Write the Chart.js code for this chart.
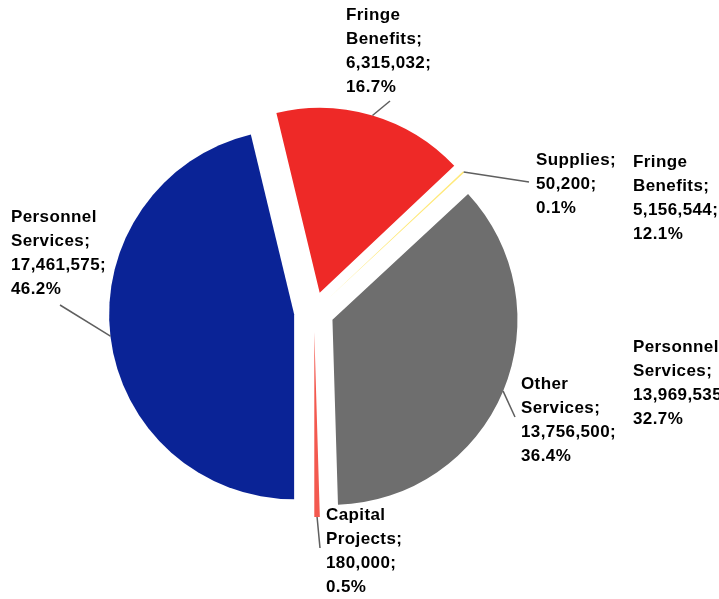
<!DOCTYPE html>
<html>
<head>
<meta charset="utf-8">
<title>Budget by category</title>
<script src="https://cdn.jsdelivr.net/npm/chart.js@4.4.1/dist/chart.umd.min.js"></script>
<style>
  html, body { margin: 0; padding: 0; background: #fff; }
  canvas { display: block; }
</style>
</head>
<body>
<canvas id="budgetPie" width="719" height="599"></canvas>
<script>
// Current year budget, by category (drawn clockwise from 6 o'clock)
const categories = ['Personnel Services', 'Fringe Benefits', 'Supplies', 'Other Services', 'Capital Projects'];
const amounts = [17461575, 6315032, 50200, 13756500, 180000];
const sliceColors = ['#0a2396', '#ee2927', '#ffe97a', '#6e6e6e', '#f3594f'];

// Labels of the neighbouring pie, only partly on the page
const sideCategories = ['Fringe Benefits', 'Personnel Services'];
const sideAmounts = [5156544, 13969535];
const sidePercents = [12.1, 32.7];

const EXPLODE = 20;
const LINE_H = 24;
const FONT = 'bold 17px "Liberation Sans", Arial, sans-serif';

// text block (left, first baseline) and leader end for each slice label
const labelSpots = [
  { x: 11, y: 222, lx: 60, ly: 305 },
  { x: 346, y: 20, lx: 390, ly: 101 },
  { x: 536, y: 165, lx: 529, ly: 182 },
  { x: 521, y: 389, lx: 515, ly: 417 },
  { x: 326, y: 520, lx: 320, ly: 548 }
];
const sideSpots = [
  { x: 633, y: 167 },
  { x: 633, y: 352 }
];

const fmt = n => n.toLocaleString('en-US');

function labelLines(name, amount, pct) {
  const words = name.split(' ');
  const lines = words.map((w, i) => i === words.length - 1 ? w + ';' : w);
  lines.push(fmt(amount) + ';');
  lines.push(pct.toFixed(1) + '%');
  return lines;
}

// pull every slice away from the centre along its middle angle
const explodePlugin = {
  id: 'explode',
  afterDatasetUpdate(chart, args) {
    args.meta.data.forEach(arc => {
      const mid = (arc.startAngle + arc.endAngle) / 2;
      arc.x += Math.cos(mid) * EXPLODE;
      arc.y += Math.sin(mid) * EXPLODE;
    });
  }
};

const sliceLabels = {
  id: 'sliceLabels',
  afterDatasetsDraw(chart) {
    const ctx = chart.ctx;
    const arcs = chart.getDatasetMeta(0).data;
    const total = amounts.reduce((a, b) => a + b, 0);

    ctx.save();
    ctx.font = FONT;
    ctx.letterSpacing = '0.4px';
    ctx.fillStyle = '#000';
    ctx.textAlign = 'left';
    ctx.textBaseline = 'alphabetic';

    arcs.forEach((arc, i) => {
      const mid = (arc.startAngle + arc.endAngle) / 2;
      const sx = arc.x + Math.cos(mid) * arc.outerRadius;
      const sy = arc.y + Math.sin(mid) * arc.outerRadius;
      const spot = labelSpots[i];

      ctx.strokeStyle = '#5f5f5f';
      ctx.lineWidth = 1.5;
      ctx.beginPath();
      ctx.moveTo(sx, sy);
      ctx.lineTo(spot.lx, spot.ly);
      ctx.stroke();

      const pct = amounts[i] / total * 100;
      labelLines(categories[i], amounts[i], pct).forEach((line, k) => {
        ctx.fillText(line, spot.x, spot.y + k * LINE_H);
      });
    });

    sideCategories.forEach((name, i) => {
      const spot = sideSpots[i];
      labelLines(name, sideAmounts[i], sidePercents[i]).forEach((line, k) => {
        ctx.fillText(line, spot.x, spot.y + k * LINE_H);
      });
    });
    ctx.restore();
  }
};

new Chart(document.getElementById('budgetPie'), {
  type: 'pie',
  data: {
    labels: categories,
    datasets: [{
      data: amounts,
      backgroundColor: sliceColors,
      borderWidth: 0
    }]
  },
  options: {
    responsive: false,
    animation: false,
    events: [],
    rotation: 180,
    layout: {
      padding: { left: 100, right: 191, top: 127, bottom: 102 }
    },
    plugins: {
      legend: { display: false },
      tooltip: { enabled: false }
    }
  },
  plugins: [explodePlugin, sliceLabels]
});
</script>
</body>
</html>
